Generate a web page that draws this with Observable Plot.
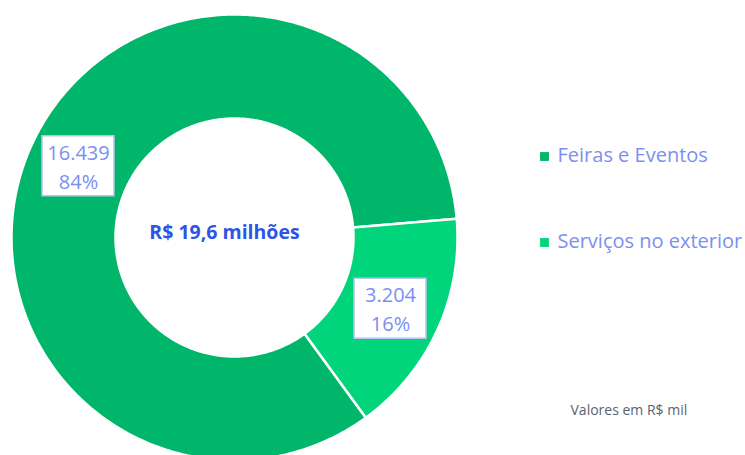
<!DOCTYPE html>
<html>
<head>
<meta charset="utf-8">
<script src="https://cdn.jsdelivr.net/npm/d3@7"></script>
<script src="https://cdn.jsdelivr.net/npm/@observablehq/plot@0.6"></script>
<style>
  html, body { margin: 0; padding: 0; background: #fff; overflow: hidden; }
</style>
</head>
<body>
<div id="chart"></div>
<script>
// ---- data ----
const categories = ["Feiras e Eventos", "Serviços no exterior"];
const values = [16439, 3204];
const valueLabels = ["16.439", "3.204"];
const percentLabels = ["84%", "16%"];
const colors = ["#00b66a", "#00d57b"];
const centerLabel = "R$ 19,6 milhões";
const noteLabel = "Valores em R$ mil";

// ---- geometry ----
const W = 745, H = 455;
const cx = 234, cy = 237, rInner = 119, rOuter = 223;
const start = 143.9 * Math.PI / 180;

const pie = d3.pie().sort(null).value(d => d.value)
  .startAngle(start).endAngle(start + 2 * Math.PI);
const rows = categories.map((c, i) => ({
  category: c, value: values[i], vLabel: valueLabels[i], pLabel: percentLabels[i]
}));
const arcs = pie(rows);

const pt = (a, r) => [cx + r * Math.sin(a), cy - r * Math.cos(a)];

const poly = [];
for (const a of arcs) {
  const n = Math.max(8, Math.ceil((a.endAngle - a.startAngle) / 0.01));
  const pts = [];
  for (let k = 0; k <= n; k++) pts.push(pt(a.startAngle + (a.endAngle - a.startAngle) * k / n, rOuter));
  for (let k = n; k >= 0; k--) pts.push(pt(a.startAngle + (a.endAngle - a.startAngle) * k / n, rInner));
  pts.push(pts[0]);
  pts.forEach(([x, y]) => poly.push({category: a.data.category, x, y}));
}

const labels = arcs.map(a => {
  const m = (a.startAngle + a.endAngle) / 2;
  const [x, y] = pt(m, (rInner + rOuter) / 2 + 0.5);
  return {...a.data, x, y};
});

const legend = categories.map((c, i) => ({category: c, y: 156 + i * 86}));

const font = "'Open Sans', 'Noto Sans', sans-serif";
const lav = "#7b8ff2";

const chart = Plot.plot({
  width: W, height: H,
  margin: 0,
  style: {fontFamily: font, background: "white"},
  x: {domain: [0, W], range: [0, W], axis: null},
  y: {domain: [0, H], range: [0, H], axis: null},
  color: {domain: categories, range: colors},
  marks: [
    Plot.line(poly, {x: "x", y: "y", z: "category", fill: "category", stroke: "white", strokeWidth: 2.5, curve: "linear"}),
    Plot.rect(labels, {x1: d => d.x - 36, x2: d => d.x + 36, y1: d => d.y - 30, y2: d => d.y + 30, fill: "white", stroke: "#b7c2f4", strokeWidth: 1.5}),
    Plot.text(labels, {x: "x", y: d => d.y - 13, text: "vLabel", fill: lav, fontSize: 20}),
    Plot.text(labels, {x: "x", y: d => d.y + 16, text: "pLabel", fill: lav, fontSize: 20}),
    Plot.text([centerLabel], {x: cx - 10, y: cy - 5, text: d => d, fill: "#2c55e6", fontSize: 19.5, fontWeight: "bold"}),
    Plot.dot(legend, {x: 544, y: "y", symbol: "square", r: 5, fill: "category", stroke: null}),
    Plot.text(legend, {x: 557, y: d => d.y - 1, text: "category", fill: lav, fontSize: 20, textAnchor: "start"}),
    Plot.text([noteLabel], {x: 570, y: 410, text: d => d, fill: "#5b6272", fontSize: 14, textAnchor: "start"})
  ]
});
document.getElementById("chart").append(chart);
</script>
</body>
</html>
